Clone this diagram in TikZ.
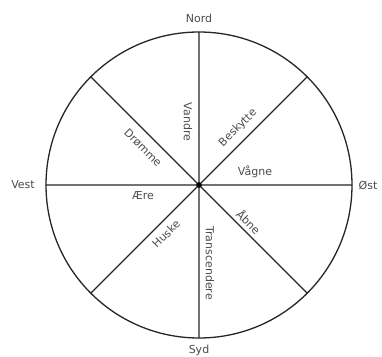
\documentclass[tikz,border=0pt]{standalone}
\usepackage{fontspec}
\setmainfont{DejaVu Sans}
\begin{document}
\begin{tikzpicture}[line cap=butt,line join=miter,x=1pt,y=1pt,font=\fontsize{11}{13}\selectfont]
		\tikzset{declare function={R=153;},
			linje/.style={line width=1.1pt,draw=black!85},
			ord/.style={text=black!70,inner sep=1pt}
		}
		\useasboundingbox (-199,-171) rectangle (183,185);
		\coordinate (O) at (0,0);
		\draw[linje,line width=1.3pt] (O) circle (R);
		\draw[linje] (O)--(90:R) coordinate (N) (O)--(270:R) coordinate (S)
		(O)--(180:R) coordinate (V) (O)--(0:R) coordinate (E)
		(O)--(45:R) coordinate (NE) (O)--(135:R) coordinate (NV)
		(O)--(225:R) coordinate (SV) (O)--(315:R) coordinate (SE);
		\fill[black] (O) circle (2.8);
		% retninger
		\node[ord] (nord) at ([yshift=14pt]N) {Nord};
		\node[ord] (syd) at ([yshift=-12pt]S) {Syd};
		\node[ord] (vest) at ([xshift=-23pt]V) {Vest};
		\node[ord] (ost) at ([xshift=16pt]E) {Øst};
		% ord i sektorerne
		\node[ord,rotate=-90] (vandre) at (-11,63) {Vandre};
		\node[ord,rotate=45] (beskytte) at (39,57) {Beskytte};
		\node[ord,rotate=-45] (dromme) at (-56,37) {Drømme};
		\node[ord] (vagne) at (56,13) {Vågne};
		\node[ord] (aere) at (-56,-11) {Ære};
		\node[ord,rotate=45] (huske) at (-33,-49) {Huske};
		\node[ord,rotate=-90] (transcendere) at (11,-78) {Transcendere};
		\node[ord,rotate=-45] (abne) at (50,-37) {Åbne};
	\end{tikzpicture}
\end{document}
